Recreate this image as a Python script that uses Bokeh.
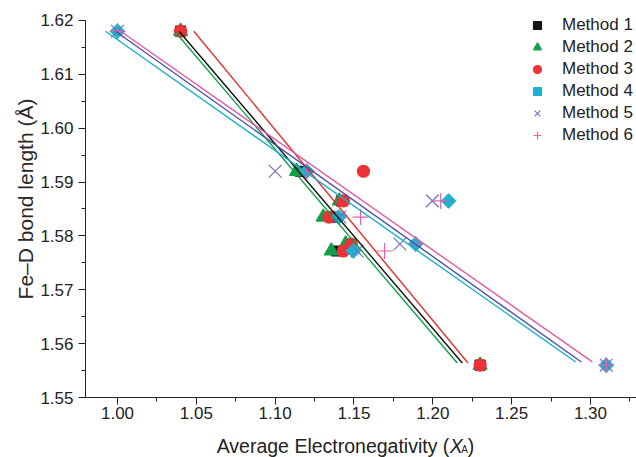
import numpy as np
from bokeh.plotting import figure
from bokeh.layouts import column
from bokeh.models import (SingleIntervalTicker, PrintfTickFormatter, Range1d,
                          Legend, LegendItem)
from bokeh.core.properties import value
from bokeh.embed import file_html
from bokeh.resources import INLINE

# ---- data ----
bond_length = [1.618, 1.592, 1.5865, 1.5835, 1.5785, 1.5772, 1.556]

m1_x = [1.040, 1.116, 1.142, 1.137, 1.147, 1.139, 1.230]
m2_x = [1.040, 1.1136, 1.1407, 1.1305, 1.1447, 1.1356, 1.230]
m3_x = [1.040, 1.156, 1.1434, 1.1341, 1.1483, 1.1432, 1.230]
m4_x = [1.000, 1.120, 1.210, 1.1404, 1.1891, 1.1496, 1.310]
m5_x = [1.000, 1.100, 1.1997, 1.141, 1.1791, 1.152, 1.310]
m6_x = [1.000, 1.120, 1.205, 1.1542, 1.1891, 1.1694, 1.310]

method_names = ["Method 1", "Method 2", "Method 3", "Method 4", "Method 5", "Method 6"]

# linear-fit line end points per method
fit_x0 = [1.039, 1.0368, 1.0484, 0.9987, 0.9924, 1.002]
fit_y0 = [1.618, 1.6178, 1.618, 1.618, 1.618, 1.618]
fit_x1 = [1.2187, 1.2155, 1.2223, 1.2942, 1.2906, 1.3012]
fit_y1 = [1.5564, 1.5564, 1.5564, 1.5566, 1.5566, 1.5566]

x_ticks_interval = 0.05
y_ticks_interval = 0.01
y_axis_bounds = (1.55, 1.62)

x_label_parts = ["Average Electronegativity (", "X", "A", ")"]
y_label = "Fe\u2013D bond length (\u00c5)"

FONT = "Liberation Sans, Arial, sans-serif"
INK = "#222222"

p = figure(width=636, height=427, output_backend="svg", toolbar_location=None,
           x_range=Range1d(0.9797, 1.3292), y_range=Range1d(1.55, 1.6237),
           min_border_left=85, min_border_right=0, min_border_top=0,
           min_border_bottom=30)
p.outline_line_color = None
p.xgrid.visible = False
p.ygrid.visible = False

xs_all = [m1_x, m2_x, m3_x, m4_x, m5_x, m6_x]
marker_cfg = [
    dict(marker="square", size=10, fill_color="#151515", line_color="#151515", angle=0.0),
    dict(marker="triangle", size=14, fill_color="#10a04a", line_color="#10a04a", angle=0.0),
    dict(marker="circle", size=12, fill_color="#ec3236", line_color="#ec3236", angle=0.0),
    dict(marker="square", size=10, fill_color="#1bb3d0", line_color="#1bb3d0", angle=np.pi / 4),
    dict(marker="x", size=18, fill_color=None, line_color="#6f73c2", angle=0.0),
    dict(marker="cross", size=16, fill_color=None, line_color="#e263aa", angle=0.0),
]
line_colors = ["#111111", "#12a04a", "#ee2b2b", "#4c50a8", "#18b0c8", "#e25aa0"]

renderers = []
for xs, cfg in zip(xs_all, marker_cfg):
    r = p.scatter(xs, bond_length, marker=cfg["marker"], size=cfg["size"],
                  fill_color=cfg["fill_color"], line_color=cfg["line_color"],
                  angle=cfg["angle"], line_width=1.2)
    renderers.append(r)

for i in range(6):
    p.line([fit_x0[i], fit_x1[i]], [fit_y0[i], fit_y1[i]],
           line_color=line_colors[i], line_width=1.4)

legend = Legend(items=[LegendItem(label=n, renderers=[r]) for n, r in zip(method_names, renderers)],
                location=(442, 252), padding=0, margin=0, spacing=2,
                glyph_width=20, glyph_height=20, label_height=20, label_standoff=15,
                border_line_color=None, background_fill_alpha=0,
                label_text_font=FONT, label_text_font_size="17px",
                label_text_color=INK)
p.add_layout(legend, "center")

for ax in (p.xaxis[0], p.yaxis[0]):
    ax.axis_line_color = INK
    ax.major_tick_line_color = INK
    ax.minor_tick_line_color = INK
    ax.major_tick_out = 7
    ax.major_tick_in = 0
    ax.minor_tick_out = 4
    ax.minor_tick_in = 0
    ax.major_label_text_font = FONT
    ax.major_label_text_font_size = "17px"
    ax.major_label_text_color = INK

p.xaxis.ticker = SingleIntervalTicker(interval=x_ticks_interval, num_minor_ticks=2)
p.yaxis.ticker = SingleIntervalTicker(interval=y_ticks_interval, num_minor_ticks=2)
p.yaxis.bounds = y_axis_bounds
p.xaxis.formatter = PrintfTickFormatter(format="%.2f")
p.yaxis.formatter = PrintfTickFormatter(format="%.2f")
p.xaxis.major_label_standoff = 2
p.yaxis.major_label_standoff = 5

p.yaxis.axis_label = y_label
p.yaxis.axis_label_text_font = FONT
p.yaxis.axis_label_text_font_size = "21px"
p.yaxis.axis_label_text_font_style = "normal"
p.yaxis.axis_label_text_color = "#2a2a2a"
p.yaxis.axis_label_standoff = 0

# x-axis title strip (X italic, A subscript)
q = figure(width=636, height=30, output_backend="svg", toolbar_location=None,
           x_range=Range1d(0, 636), y_range=Range1d(0, 30),
           x_axis_type=None, y_axis_type=None, min_border=0)
q.grid.visible = False
q.outline_line_color = None
base = 12
xs0 = 420
q.text(x=[xs0], y=[base], text=[x_label_parts[0]], text_align="right",
       text_baseline="alphabetic", text_font=value(FONT), text_font_size="19.5px",
       text_color=INK)
q.text(x=[xs0 + 0.5], y=[base], text=[x_label_parts[1]], text_align="left",
       text_baseline="alphabetic", text_font=value(FONT), text_font_size="19.5px",
       text_font_style="italic", text_color=INK)
q.text(x=[xs0 + 13.8], y=[base - 4], text=[x_label_parts[2]], text_align="left",
       text_baseline="alphabetic", text_font=value(FONT), text_font_size="10px",
       text_color=INK)
q.text(x=[xs0 + 21.3], y=[base], text=[x_label_parts[3]], text_align="left",
       text_baseline="alphabetic", text_font=value(FONT), text_font_size="19.5px",
       text_color=INK)

layout = column(p, q, spacing=0)
open("out.html", "w").write(file_html(layout, INLINE))
